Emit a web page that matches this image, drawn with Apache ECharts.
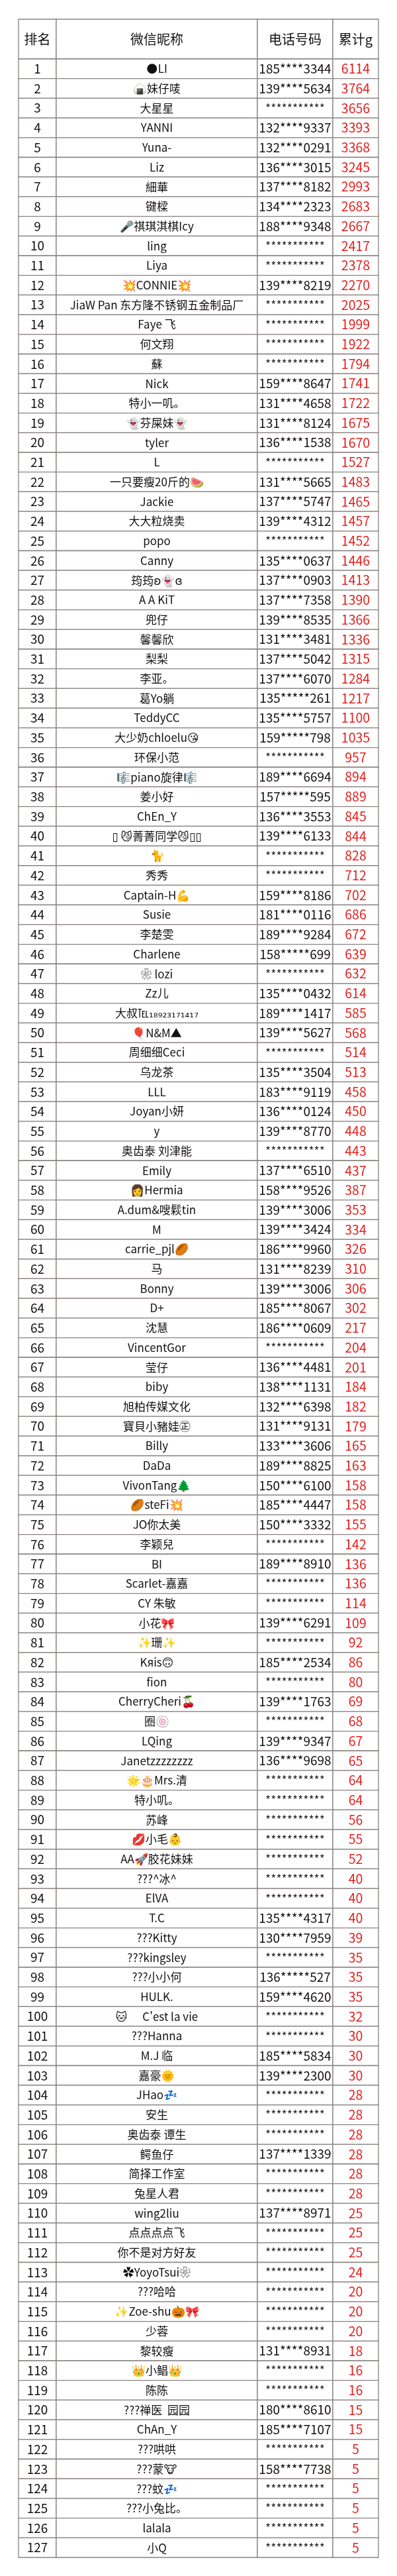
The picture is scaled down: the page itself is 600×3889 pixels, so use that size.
<!DOCTYPE html>
<html lang="zh">
<head>
    <meta charset="UTF-8">
    <title>累计排名</title>
    <style type="text/css">
        body{
            margin: 0px;
            padding: 0px;
            background: #fff;
        }
        #chart{
            width: 600px;
            height: 3889px;
        }
    </style>
</head>
<body>
    <div id="chart"></div>
</body>
<script src="https://cdn.jsdelivr.net/npm/echarts@6/dist/echarts.min.js" type="text/javascript"></script>
<script type="text/javascript">
    // 表头
    var headers = ['排名', '微信昵称', '电话号码', '累计g'];

    // 排名
    var ranks = [1, 2, 3, 4, 5, 6, 7, 8, 9, 10, 11, 12, 13, 14, 15, 16, 17, 18, 19, 20,
        21, 22, 23, 24, 25, 26, 27, 28, 29, 30, 31, 32, 33, 34, 35, 36, 37, 38, 39, 40,
        41, 42, 43, 44, 45, 46, 47, 48, 49, 50, 51, 52, 53, 54, 55, 56, 57, 58, 59, 60,
        61, 62, 63, 64, 65, 66, 67, 68, 69, 70, 71, 72, 73, 74, 75, 76, 77, 78, 79, 80,
        81, 82, 83, 84, 85, 86, 87, 88, 89, 90, 91, 92, 93, 94, 95, 96, 97, 98, 99, 100,
        101, 102, 103, 104, 105, 106, 107, 108, 109, 110, 111, 112, 113, 114, 115, 116, 117, 118, 119, 120,
        121, 122, 123, 124, 125, 126, 127];

    // 微信昵称
    var names = ['🌑LI', '🍙妹仔唛', '大星星', 'YANNI', 'Yuna-', 'Liz', '細華', '键樑', '🎤祺琪淇棋Icy', 'ling',
        'Liya', '💥CONNIE💥', 'JiaW Pan 东方隆不锈钢五金制品厂', 'Faye 飞', '何文翔', '蘇', 'Nick', '特小一叽。', '👻芬屎妹👻', 'tyler',
        'L', '一只要瘦20斤的🍉', 'Jackie', '大大粒烧卖', 'popo', 'Canny', '筠筠ʚ👻ɞ', 'A A KiT', '兜仔', '馨馨欣',
        '梨梨', '李亚。', '葛Yo躺', 'TeddyCC', '大少奶chloelu😘', '环保小范', '🎼piano旋律🎼', '姜小好', 'ChEn_Y', '▯ 😼菁菁同学😼▯▯',
        '🐈', '秀秀', 'Captain-H💪', 'Susie', '李楚雯', 'Charlene', '❀ lozi', 'Zz儿', '大叔℡₁₈₉₂₃₁₇₁₄₁₇', '🎈N&M▲',
        '周细细Ceci', '乌龙茶', 'LLL', 'Joyan小妍', 'y', '奥齿泰 刘津能', 'Emily', '👩Hermia', 'A.dum&嗖鬏tin', 'M',
        'carrie_pjl🏉', '马', 'Bonny', 'D+', '沈慧', 'VincentGor', '莹仔', 'biby', '旭柏传媒文化', '寶貝小豬娃㊣',
        'Billy', 'DaDa', 'VivonTang🌲', '🏉steFi💥', 'JO你太美', '李颖兒', 'BI', 'Scarlet-嘉嘉', 'CY 朱敏', '小花🎀',
        '✨珊✨', 'Kяis🙃', 'fion', 'CherryCheri🍒', '圈🍥', 'LQing', 'Janetzzzzzzzz', '🌟🎂Mrs.清', '特小叽。', '苏峰',
        '💋小毛👶', 'AA🚀胶花妹妹', '???^冰^', 'ElVA', 'T.C', '???Kitty', '???kingsley', '???小小何', 'HULK.', '🐱      C\'est la vie',
        '???Hanna', 'M.J 临', '嘉豪🌞', 'JHao💤', '安生', '奥齿泰 谭生', '鳄鱼仔', '简择工作室', '兔星人君', 'wing2liu',
        '点点点点飞', '你不是对方好友', '✿YoyoTsui❀', '???哈哈', '✨Zoe-shu🎃🎀', '少蓉', '黎较瘦', '👑小鲳👑', '陈陈', '???禅医  园园',
        'ChAn_Y', '???哄哄', '???蒙🐮', '???蚊💤', '???小兔比。', 'lalala', '小Q'];

    // 电话号码（空号用星号）
    var M = '***********';
    var phones = ['185****3344', '139****5634', M, '132****9337', '132****0291', '136****3015', '137****8182', '134****2323', '188****9348', M,
        M, '139****8219', M, M, M, M, '159****8647', '131****4658', '131****8124', '136****1538',
        M, '131****5665', '137****5747', '139****4312', M, '135****0637', '137****0903', '137****7358', '139****8535', '131****3481',
        '137****5042', '137****6070', '135*****261', '135****5757', '159*****798', M, '189****6694', '157*****595', '136****3553', '139****6133',
        M, M, '159****8186', '181****0116', '189****9284', '158*****699', M, '135****0432', '189****1417', '139****5627',
        M, '135****3504', '183****9119', '136****0124', '139****8770', M, '137****6510', '158****9526', '139****3006', '139****3424',
        '186****9960', '131****8239', '139****3006', '185****8067', '186****0609', M, '136****4481', '138****1131', '132****6398', '131****9131',
        '133****3606', '189****8825', '150****6100', '185****4447', '150****3332', M, '189****8910', M, M, '139****6291',
        M, '185****2534', M, '139****1763', M, '139****9347', '136****9698', M, M, M,
        M, M, M, M, '135****4317', '130****7959', M, '136*****527', '159****4620', M,
        M, '185****5834', '139****2300', M, M, M, '137****1339', M, M, '137****8971',
        M, M, M, M, M, M, '131****8931', M, M, '180****8610',
        '185****7107', M, '158****7738', M, M, M, M];

    // 累计g
    var totals = [6114, 3764, 3656, 3393, 3368, 3245, 2993, 2683, 2667, 2417,
        2378, 2270, 2025, 1999, 1922, 1794, 1741, 1722, 1675, 1670,
        1527, 1483, 1465, 1457, 1452, 1446, 1413, 1390, 1366, 1336,
        1315, 1284, 1217, 1100, 1035, 957, 894, 889, 845, 844,
        828, 712, 702, 686, 672, 639, 632, 614, 585, 568,
        514, 513, 458, 450, 448, 443, 437, 387, 353, 334,
        326, 310, 306, 302, 217, 204, 201, 184, 182, 179,
        165, 163, 158, 158, 155, 142, 136, 136, 114, 109,
        92, 86, 80, 69, 68, 67, 65, 64, 64, 56,
        55, 52, 40, 40, 40, 39, 35, 35, 35, 32,
        30, 30, 30, 28, 28, 28, 28, 28, 28, 25,
        25, 25, 24, 20, 20, 20, 18, 16, 16, 15,
        15, 5, 5, 5, 5, 5, 5];

    // 列的分界（x 轴上的单位）
    var colEdges = [0, 57, 361, 475, 544];
    var borderColor = '#8a8482';
    var FONT = '"Noto Sans CJK SC", "DejaVu Sans", sans-serif';

    function cellGroup(api, catIndex, texts, styles) {
        var yc = api.coord([0, catIndex])[1];
        var h = api.size([0, 1])[1];
        var children = [];
        for (var c = 0; c < 4; c++) {
            var x0 = api.coord([colEdges[c], catIndex])[0];
            var x1 = api.coord([colEdges[c + 1], catIndex])[0];
            children.push({
                type: 'rect',
                shape: {x: x0, y: yc - h / 2, width: x1 - x0, height: h},
                style: {fill: '#fff', stroke: borderColor, lineWidth: 1.3}
            });
            var st = styles[c];
            children.push({
                type: 'text',
                x: (x0 + x1) / 2,
                y: yc + (st.dy || 0),
                style: {
                    text: String(texts[c]),
                    fill: st.color,
                    font: st.size + 'px ' + FONT,
                    align: 'center',
                    verticalAlign: 'middle'
                }
            });
        }
        return {type: 'group', children: children};
    }

    //表头
    function renderHead(params, api) {
        var s = {color: '#111', size: 20};
        return cellGroup(api, 0, headers, [s, s, s, s]);
    }

    //每一行
    function renderRow(params, api) {
        var i = params.dataIndex;
        var masked = phones[i] === M;
        return cellGroup(api, api.value(1), [ranks[i], names[i], phones[i], totals[i]], [
            {color: '#111', size: 19},
            {color: '#111', size: 17},
            masked ? {color: '#222', size: 17.5, dy: 0} : {color: '#111', size: 19},
            {color: '#e3211e', size: 19.5}
        ]);
    }

    var option = {
        animation: false,
        grid: [
            {left: 28, right: 28, top: 29, height: 60},
            {left: 28, right: 28, top: 89, height: 3772}
        ],
        xAxis: [
            {gridIndex: 0, type: 'value', min: 0, max: 544, show: false},
            {gridIndex: 1, type: 'value', min: 0, max: 544, show: false}
        ],
        yAxis: [
            {gridIndex: 0, type: 'category', data: ['head'], show: false},
            {gridIndex: 1, type: 'category', data: ranks, inverse: true, show: false}
        ],
        series: [
            {
                type: 'custom',
                xAxisIndex: 0,
                yAxisIndex: 0,
                renderItem: renderHead,
                data: [[0, 0]],
                encode: {x: 0, y: 1}
            },
            {
                type: 'custom',
                xAxisIndex: 1,
                yAxisIndex: 1,
                renderItem: renderRow,
                data: ranks.map(function (r, i) { return [0, i]; }),
                encode: {x: 0, y: 1}
            }
        ]
    };

    var myChart = echarts.init(document.getElementById('chart'));
    myChart.setOption(option);
</script>
</html>
